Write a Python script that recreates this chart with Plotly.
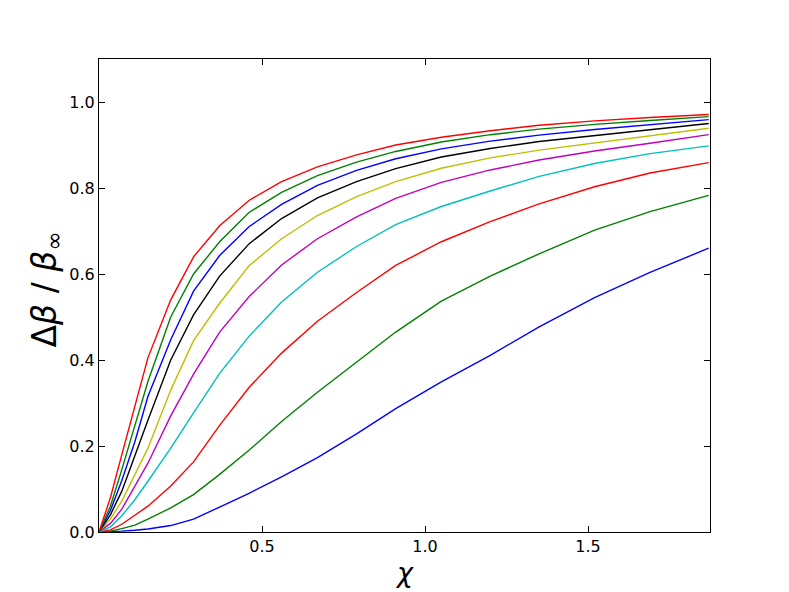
import plotly.graph_objects as go

chi = [0, 0.035, 0.07, 0.11, 0.15, 0.22, 0.29, 0.37, 0.46, 0.56, 0.67, 0.79, 0.91, 1.05, 1.20, 1.35, 1.52, 1.69, 1.87]

blue_low = [0, 0.0005, 0.002, 0.004, 0.007, 0.015, 0.03, 0.058, 0.09, 0.128, 0.173, 0.228, 0.287, 0.349, 0.411, 0.477, 0.545, 0.604, 0.660]
green_low = [0, 0.002, 0.008, 0.016, 0.03, 0.056, 0.087, 0.134, 0.19, 0.257, 0.325, 0.394, 0.465, 0.537, 0.595, 0.647, 0.702, 0.745, 0.783]
red_low = [0, 0.005, 0.018, 0.038, 0.06, 0.107, 0.163, 0.248, 0.336, 0.416, 0.490, 0.557, 0.620, 0.675, 0.722, 0.763, 0.803, 0.835, 0.859]
cyan = [0, 0.012, 0.038, 0.075, 0.118, 0.195, 0.277, 0.369, 0.455, 0.535, 0.604, 0.664, 0.715, 0.757, 0.793, 0.827, 0.857, 0.880, 0.898]
magenta = [0, 0.02, 0.053, 0.105, 0.16, 0.27, 0.367, 0.465, 0.547, 0.621, 0.682, 0.733, 0.776, 0.813, 0.842, 0.865, 0.886, 0.904, 0.924]
yellow = [0, 0.03, 0.072, 0.135, 0.195, 0.33, 0.445, 0.532, 0.619, 0.682, 0.736, 0.780, 0.815, 0.846, 0.870, 0.888, 0.905, 0.921, 0.939]
black = [0, 0.04, 0.095, 0.18, 0.26, 0.40, 0.505, 0.595, 0.670, 0.729, 0.777, 0.815, 0.845, 0.872, 0.892, 0.908, 0.922, 0.935, 0.950]
blue_high = [0, 0.05, 0.12, 0.21, 0.315, 0.447, 0.56, 0.643, 0.710, 0.762, 0.806, 0.841, 0.868, 0.891, 0.909, 0.923, 0.936, 0.947, 0.959]
green_high = [0, 0.06, 0.145, 0.245, 0.35, 0.50, 0.60, 0.675, 0.743, 0.790, 0.829, 0.860, 0.885, 0.907, 0.924, 0.937, 0.948, 0.957, 0.966]
red_high = [0, 0.08, 0.18, 0.29, 0.405, 0.54, 0.64, 0.712, 0.771, 0.815, 0.849, 0.877, 0.900, 0.918, 0.933, 0.946, 0.956, 0.964, 0.971]

series = [blue_low, green_low, red_low, cyan, magenta, yellow, black, blue_high, green_high, red_high]
colors = ["#0000ff", "#008000", "#ff0000", "#00bfbf", "#bf00bf", "#bfbf00", "#000000", "#0000ff", "#008000", "#ff0000"]

x_ticks = [0.5, 1.0, 1.5]
x_tick_labels = ["0.5", "1.0", "1.5"]
y_ticks = [0.0, 0.2, 0.4, 0.6, 0.8, 1.0]
y_tick_labels = ["0.0", "0.2", "0.4", "0.6", "0.8", "1.0"]

fig = go.Figure()
for ys, c in zip(series, colors):
    fig.add_trace(go.Scatter(x=chi, y=ys, mode="lines", line=dict(color=c, width=1.4), showlegend=False))

axis_common = dict(
    showgrid=False, zeroline=False, showline=True, linecolor="black", linewidth=1.2,
    mirror="ticks", ticks="inside", ticklen=6, tickwidth=1, tickcolor="black",
    tickfont=dict(family="DejaVu Sans", size=16, color="black"), automargin=False,
)

fig.update_layout(
    width=781, height=584,
    margin=dict(l=91, r=79, t=51, b=60),
    paper_bgcolor="white", plot_bgcolor="white",
    xaxis=dict(range=[0, 1.874], tickvals=x_ticks, ticktext=x_tick_labels, **axis_common),
    yaxis=dict(range=[0, 1.1], tickvals=y_ticks, ticktext=y_tick_labels, **axis_common),
    annotations=[
        dict(text="<i>χ</i>", xref="paper", yref="paper", x=0.5, y=0, xanchor="center", yanchor="middle",
             yshift=-40, showarrow=False, font=dict(family="DejaVu Sans", size=27, color="black")),
        dict(text="Δ<i>β</i> / <i>β</i><sub>∞</sub>", xref="paper", yref="paper", x=0, y=0.5,
             xanchor="center", yanchor="middle", xshift=-53, yshift=6, textangle=-90, showarrow=False,
             font=dict(family="DejaVu Sans", size=33, color="black")),
    ],
)

fig.write_html("out.html")
